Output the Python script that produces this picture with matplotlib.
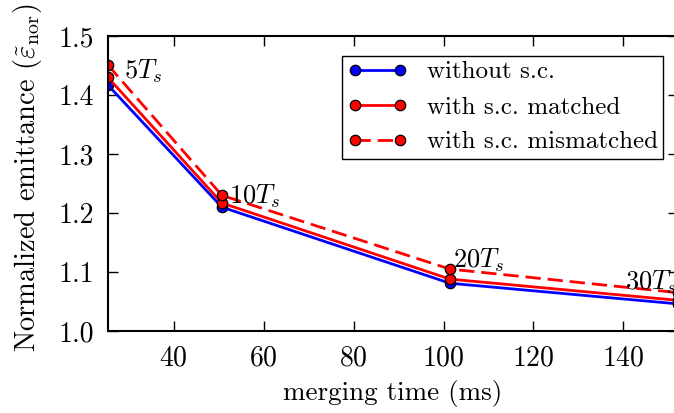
import matplotlib
matplotlib.use('Agg')
import matplotlib.pyplot as plt

# merging times: 5, 10, 20, 30 Ts (ms)
merge_time = [25.35, 50.7, 101.4, 152.1]
without_sc = [1.417, 1.210, 1.081, 1.046]
with_sc_matched = [1.430, 1.217, 1.088, 1.052]
with_sc_mismatched = [1.451, 1.230, 1.105, 1.065]
point_labels = ['$5T_s$', '$10T_s$', '$20T_s$', '$30T_s$']

plt.rcParams['font.family'] = 'serif'
plt.rcParams['font.serif'] = ['cmr10']
plt.rcParams['mathtext.fontset'] = 'cm'
plt.rcParams['axes.unicode_minus'] = False
plt.rcParams['axes.formatter.use_mathtext'] = True

fig = plt.figure(figsize=(6.74, 4.13), dpi=100)
ax = fig.add_axes([0.160, 0.1985, 0.8457, 0.7143])

mk = dict(marker='o', markersize=7.5, markeredgecolor='black', markeredgewidth=0.9)
ax.plot(merge_time, without_sc, color='blue', lw=2, label='without s.c.', **mk)
ax.plot(merge_time, with_sc_matched, color='red', lw=2, label='with s.c. matched', **mk)
ax.plot(merge_time, with_sc_mismatched, color='red', lw=2, ls=(0, (5.5, 2.5)),
        label='with s.c. mismatched', **mk)

# labels next to the points (text positions in data units)
label_pos = [(29.0, 1.440), (52.3, 1.228), (102.2, 1.120), (140.3, 1.083)]
for txt, (lx, ly) in zip(point_labels, label_pos):
    ax.text(lx, ly, txt, fontsize=19, va='center', ha='left')

ax.set_xlim(25.35, 152.1)
ax.set_ylim(1.0, 1.5)
ax.set_xticks([40, 60, 80, 100, 120, 140])
ax.set_yticks([1.0, 1.1, 1.2, 1.3, 1.4, 1.5])
ax.set_yticklabels(['1.0', '1.1', '1.2', '1.3', '1.4', '1.5'])
ax.tick_params(direction='in', length=7, width=1, top=True, right=True,
               labelsize=20, pad=10)
for s in ax.spines.values():
    s.set_linewidth(1.5)

ax.set_xlabel('merging time (ms)', fontsize=19.5, labelpad=6)
ax.set_ylabel(r'Normalized emittance $(\tilde{\varepsilon}_{\rm nor})$', fontsize=20.5)
ax.yaxis.set_label_coords(-0.112, 0.52)

leg = ax.legend(loc='upper right', bbox_to_anchor=(663 / 674, 1 - 56 / 413),
                bbox_transform=fig.transFigure, borderaxespad=0, numpoints=2,
                fontsize=18, fancybox=False, framealpha=1, handlelength=2.4,
                handletextpad=0.8, labelspacing=0.5, borderpad=0.2)
leg.get_frame().set_edgecolor('black')
leg.get_frame().set_linewidth(1.0)

fig.savefig('out.png', dpi=100)
